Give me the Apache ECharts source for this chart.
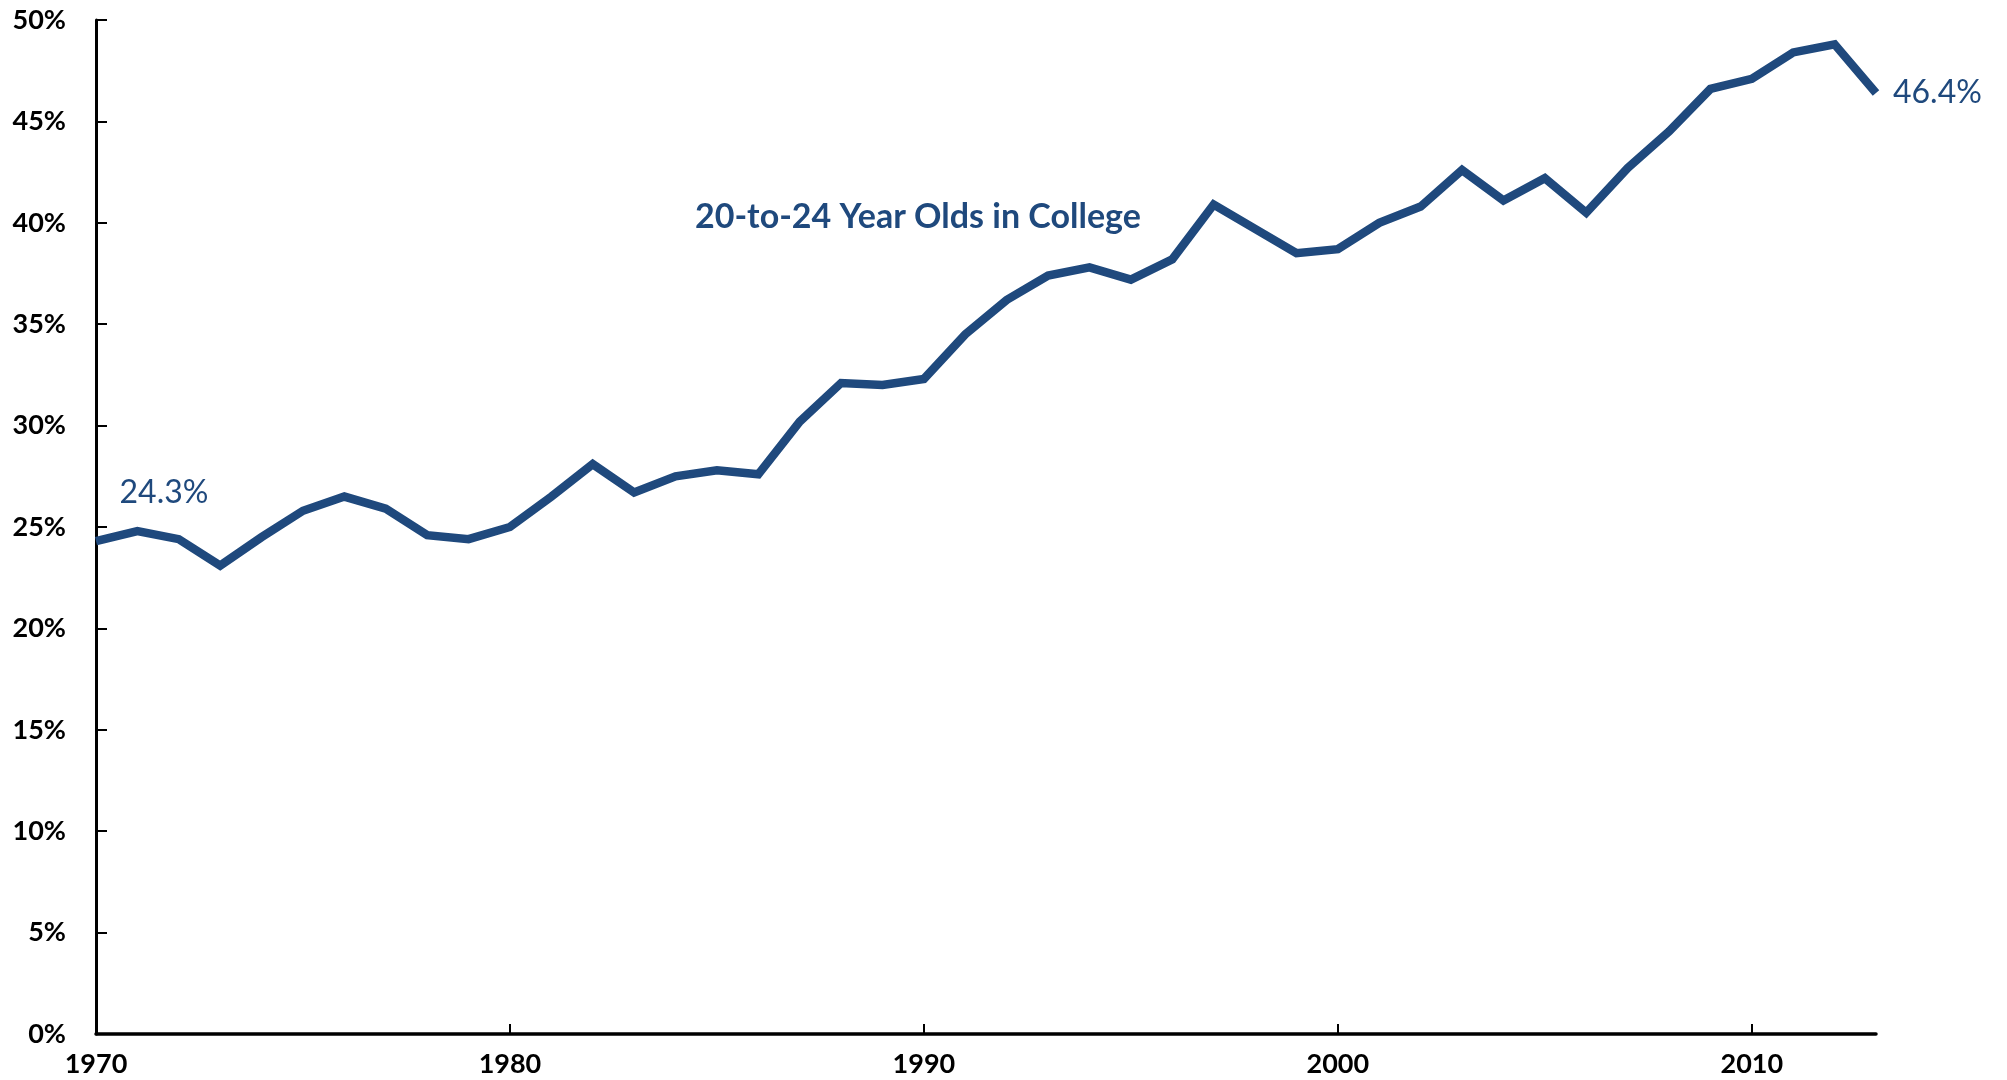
<!DOCTYPE html>
<html>
<head>
<meta charset="utf-8">
<script src="https://cdn.jsdelivr.net/npm/echarts@6/dist/echarts.min.js"></script>
<style>
  html, body { margin: 0; padding: 0; background: #fff; }
  #main { width: 2007px; height: 1080px; }
</style>
</head>
<body>
<div id="main"></div>
<script>
// years on the x axis
var years = [
  1970, 1971, 1972, 1973, 1974, 1975, 1976, 1977, 1978, 1979,
  1980, 1981, 1982, 1983, 1984, 1985, 1986, 1987, 1988, 1989,
  1990, 1991, 1992, 1993, 1994, 1995, 1996, 1997, 1998, 1999,
  2000, 2001, 2002, 2003, 2004, 2005, 2006, 2007, 2008, 2009,
  2010, 2011, 2012, 2013
];
// share of 20-to-24 year olds in college, percent
var inCollege = [
  24.3, 24.8, 24.4, 23.1, 24.5, 25.8, 26.5, 25.9, 24.6, 24.4,
  25.0, 26.5, 28.1, 26.7, 27.5, 27.8, 27.6, 30.2, 32.1, 32.0,
  32.3, 34.5, 36.2, 37.4, 37.8, 37.2, 38.2, 40.9, 39.7, 38.5,
  38.7, 40.0, 40.8, 42.6, 41.1, 42.2, 40.5, 42.7, 44.5, 46.6,
  47.1, 48.4, 48.8, 46.4
];
var yTicks = [0, 5, 10, 15, 20, 25, 30, 35, 40, 45, 50];

var navy = '#1F497D';
var font = 'Lato, "Open Sans", sans-serif';

var seriesData = inCollege.map(function (v, i) {
  var item = { value: v };
  if (i === 0) {
    item.label = { show: true, position: 'top', offset: [68, -28] };
  } else if (i === inCollege.length - 1) {
    item.label = { show: true, position: 'right', distance: 17 };
  }
  return item;
});

var chart = echarts.init(document.getElementById('main'));
var option = {
  backgroundColor: '#fff',
  animation: false,
  grid: {
    left: 96, right: 131, top: 20, bottom: 46,
    containLabel: false,
    outerBoundsMode: 'none'
  },
  xAxis: {
    type: 'category',
    data: years,
    boundaryGap: false,
    axisLine: { lineStyle: { color: '#000', width: 3.5 } },
    axisTick: {
      inside: true, length: 10,
      lineStyle: { color: '#000', width: 2 },
      interval: function (idx, val) { return Number(val) % 10 === 0; }
    },
    axisLabel: {
      interval: function (idx, val) { return Number(val) % 10 === 0; },
      margin: 17,
      color: '#000', fontFamily: font, fontWeight: 'bold', fontSize: 27
    },
    splitLine: { show: false }
  },
  yAxis: {
    type: 'value',
    min: yTicks[0], max: yTicks[yTicks.length - 1], interval: 5,
    axisLine: { show: true, lineStyle: { color: '#000', width: 3 } },
    axisTick: { show: true, inside: true, length: 11, lineStyle: { color: '#000', width: 2 } },
    axisLabel: {
      formatter: '{value}%', margin: 30,
      color: '#000', fontFamily: font, fontWeight: 'bold', fontSize: 27
    },
    splitLine: { show: false }
  },
  series: [{
    name: '20-to-24 Year Olds in College',
    type: 'line',
    data: seriesData,
    symbol: 'circle',
    symbolSize: 0,
    showSymbol: true,
    showAllSymbol: true,
    lineStyle: { color: navy, width: 8.5, cap: 'butt', join: 'miter' },
    itemStyle: { color: navy },
    label: {
      show: false,
      formatter: function (p) { return p.value.toFixed(1) + '%'; },
      color: navy, fontFamily: font, fontSize: 32
    }
  }],
  graphic: [{
    type: 'text',
    left: 695, top: 200,
    style: {
      text: '20-to-24 Year Olds in College',
      fill: navy,
      font: 'bold 34px Lato, "Open Sans", sans-serif'
    }
  }]
};
chart.setOption(option);
</script>
</body>
</html>
